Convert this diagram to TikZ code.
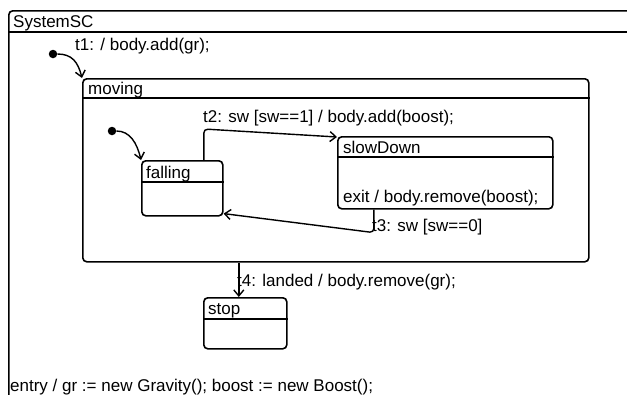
\documentclass[tikz,border=0pt]{standalone}
\usepackage{fontspec}
\setmainfont{Liberation Sans}
\usetikzlibrary{arrows.meta}
\begin{document}
\begin{tikzpicture}[x=1pt,y=-1pt,
  every node/.style={font=\fontsize{17}{20}\selectfont},
  statebox/.style={draw, line width=1.6pt, rounded corners=4pt, inner sep=0pt, anchor=north west},
  lbl/.style={inner sep=0pt, anchor=base west},
  trans/.style={line width=1.4pt, -{Straight Barb[length=6pt,width=10pt]}},
  initdot/.style={circle, fill=black, inner sep=0pt, minimum size=8.5pt},
  sep/.style={line width=1.6pt}]
\useasboundingbox (0,0) rectangle (627,394);
\clip (0,0) rectangle (627,394);
\fill[white] (0,0) rectangle (627,394);
% outer state
\node[statebox, minimum width=700pt, minimum height=450pt] (sys) at (8,10) {};
\draw[sep] ([yshift=-22pt]sys.north west) -- ([yshift=-22pt]sys.north east);
\node[lbl] (sysT) at (13,27) {SystemSC};
\node[lbl] (entry) at (10,391.5) {entry / gr := new Gravity(); boost := new Boost();};
% moving
\node[statebox, minimum width=506pt, minimum height=183pt] (moving) at (82,78) {};
\draw[sep] ([yshift=-20pt]moving.north west) -- ([yshift=-20pt]moving.north east);
\node[lbl] (movingT) at (88,94) {moving};
% falling
\node[statebox, minimum width=81pt, minimum height=55pt] (falling) at (141,160) {};
\draw[sep] ([yshift=-22pt]falling.north west) -- ([yshift=-22pt]falling.north east);
\node[lbl] (fallingT) at (146,178) {falling};
% slowDown
\node[statebox, minimum width=215pt, minimum height=72pt] (slow) at (337,136) {};
\draw[sep] ([yshift=-21pt]slow.north west) -- ([yshift=-21pt]slow.north east);
\node[lbl] (slowT) at (343,153) {slowDown};
\node[lbl] (slowExit) at (343,202) {exit / body.remove(boost);};
% stop
\node[statebox, minimum width=83pt, minimum height=51pt] (stop) at (203,297) {};
\draw[sep] ([yshift=-22pt]stop.north west) -- ([yshift=-22pt]stop.north east);
\node[lbl] (stopT) at (208,314) {stop};
% initial pseudostates
\node[initdot] (i1) at (53,54) {};
\node[initdot] (i2) at (112,131) {};
% transitions
\draw[trans] (i1) .. controls (72,54) and (78,62) .. (moving.north west);
\node[lbl] (t1) at (75,50) {t1: / body.add(gr);};
\draw[trans] (i2) .. controls (130,131) and (137,143) .. (falling.north west);
\draw[trans, rounded corners=4pt] ([xshift=21.5pt]falling.north) -- ++(0,-31) -- ([yshift=-1pt]slow.north west);
\node[lbl] (t2) at (203,122) {t2: sw [sw==1] / body.add(boost);};
\draw[trans, rounded corners=4pt] ([xshift=-71.5pt]slow.south) -- ++(0,23) -- ([yshift=3pt]falling.south east);
\node[lbl] (t3) at (372,231) {t3: sw [sw==0]};
\draw[trans] ([xshift=-97pt]moving.south) -- ([xshift=-6.5pt]stop.north);
\node[lbl] (t4) at (237,286) {t4: landed / body.remove(gr);};
\end{tikzpicture}
\end{document}
